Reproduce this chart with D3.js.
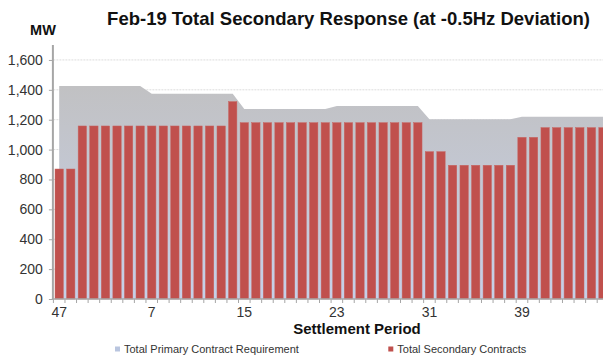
<!DOCTYPE html>
<html><head><meta charset="utf-8">
<script src="https://cdn.jsdelivr.net/npm/d3@7"></script>
<style>
html,body{margin:0;padding:0;background:#fff;overflow:hidden;}
text{font-family:"Liberation Sans",Arial,sans-serif;}
</style></head>
<body><svg id="c" width="603" height="356"></svg>
<script>
const periods = ["47","48"].concat(d3.range(1,47).map(String));
const secondary = [870,870,
 1158,1158,1158,1158,1158,1158,1158,1158,1158,1158,1158,1158,1158,
 1321,
 1180,1180,1180,1180,1180,1180,1180,1180,1180,1180,1180,1180,1180,1180,1180,1180,
 986,986,
 895,895,895,895,895,895,
 1082,1082,
 1147,1147,1147,1147,1147,1147];
const primary = [1426,1426,1426,1426,1426,1426,1426,1426,
 1374,1374,1374,1374,1374,1374,1374,1374,
 1272,1272,1272,1272,1272,1272,1272,1272,
 1292,1292,1292,1292,1292,1292,1292,1292,
 1203,1203,1203,1203,1203,1203,1203,1203,
 1220,1220,1220,1220,1220,1220,1220,1220];
const yTicks = [0,200,400,600,800,1000,1200,1400,1600];
const xLabels = ["47","7","15","23","31","39"];

const svg = d3.select("#c");
const pLeft = 53.4, step = 11.57, pBottom = 299, pTop = 45;
const x = d3.scaleBand().domain(periods).range([pLeft, pLeft + step*periods.length]).paddingInner(0.28).paddingOuter(0.14);
const y = d3.scaleLinear().domain([0,1700]).range([pBottom, pTop]);

const defs = svg.append("defs");
const g = defs.append("linearGradient").attr("id","pg").attr("x1",0).attr("y1",0).attr("x2",0).attr("y2",1);
g.append("stop").attr("offset","0%").attr("stop-color","#c1c1c3");
g.append("stop").attr("offset","100%").attr("stop-color","#c6d0e8");

// gridlines
svg.append("g").selectAll("line").data(yTicks.filter(d=>d>0)).join("line")
  .attr("x1", pLeft).attr("x2", 603).attr("y1", d=>y(d)).attr("y2", d=>y(d))
  .attr("stroke","#dcdcdc").attr("stroke-width",1).attr("stroke-dasharray","2,1");

// area
const cx = d => x(d) + x.bandwidth()/2;
const area = d3.area().x((d,i)=>cx(periods[i])).y0(y(0)).y1(d=>y(d));
svg.append("path").datum(primary).attr("d", area).attr("fill","url(#pg)");

// bars
svg.append("g").selectAll("rect").data(secondary).join("rect")
  .attr("x",(d,i)=>x(periods[i])).attr("width",x.bandwidth())
  .attr("y",d=>y(d)).attr("height",d=>y(0)-y(d))
  .attr("fill","#c0504d").attr("stroke","#c86461").attr("stroke-width",0.5);

// y axis
const ya = d3.axisLeft(y).tickValues(yTicks).tickFormat(d3.format(",")).tickSize(4).tickPadding(6);
const yg = svg.append("g").attr("transform",`translate(${pLeft-0.5},0)`).call(ya);
yg.select(".domain").remove();
yg.append("line").attr("x1",0).attr("x2",0).attr("y1",pTop).attr("y2",pBottom).attr("stroke","#a6a6a6").attr("stroke-width",2);
yg.selectAll(".tick line").attr("stroke","#a6a6a6");
yg.selectAll(".tick text").attr("font-size","14px").attr("fill","#333").attr("font-family","Liberation Sans, Arial, sans-serif");

// x axis
const xa = d3.axisBottom(x).tickValues(xLabels).tickSize(0).tickPadding(8);
const xg = svg.append("g").attr("transform",`translate(0,${pBottom})`).call(xa);
xg.select(".domain").remove();
xg.selectAll(".tick text").attr("font-size","14px").attr("fill","#333").attr("font-family","Liberation Sans, Arial, sans-serif");
xg.append("line").attr("x1",pLeft-1.5).attr("x2",603).attr("y1",0).attr("y2",0).attr("stroke","#a6a6a6").attr("stroke-width",1.5);
xg.append("g").selectAll("line").data(d3.range(periods.length+1)).join("line")
  .attr("x1",i=>pLeft+i*step).attr("x2",i=>pLeft+i*step).attr("y1",0).attr("y2",4)
  .attr("stroke","#a6a6a6").attr("stroke-width",1);

// titles
svg.append("text").attr("x",348.5).attr("y",25).attr("text-anchor","middle")
  .attr("font-size","18.5px").attr("font-weight","bold").attr("fill","#111")
  .text("Feb-19 Total Secondary Response (at -0.5Hz Deviation)");
svg.append("text").attr("x",43).attr("y",35).attr("text-anchor","middle")
  .attr("font-size","14.5px").attr("font-weight","bold").attr("fill","#111").text("MW");
svg.append("text").attr("x",357).attr("y",334).attr("text-anchor","middle")
  .attr("font-size","15px").attr("font-weight","bold").attr("fill","#111").text("Settlement Period");

// legend
const leg = [{t:"Total Primary Contract Requirement",c:"#b9c5df",x:115},{t:"Total Secondary Contracts",c:"#c0504d",x:388.3}];
const lg = svg.append("g").selectAll("g").data(leg).join("g");
lg.append("rect").attr("x",d=>d.x).attr("y",346.5).attr("width",5).attr("height",5).attr("fill",d=>d.c);
lg.append("text").attr("x",d=>d.x+9).attr("y",352.5).attr("font-size","11px").attr("fill","#333").text(d=>d.t);
</script></body></html>
